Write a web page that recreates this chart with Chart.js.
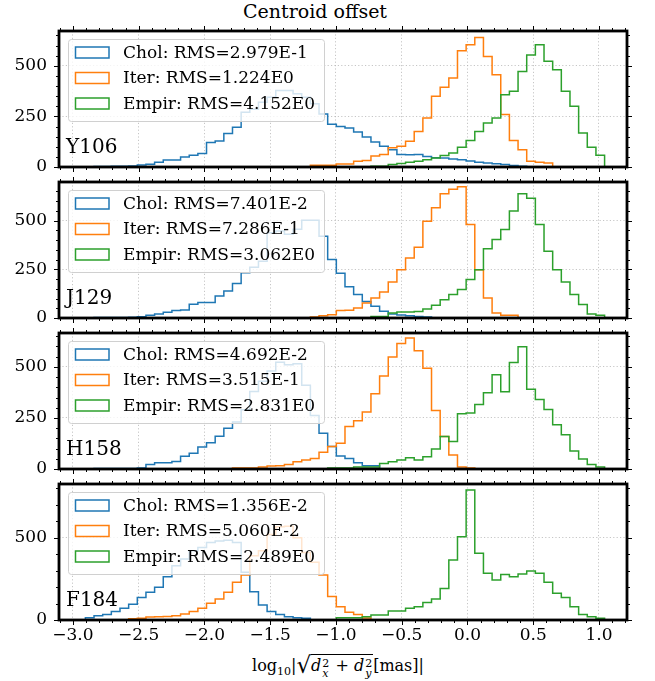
<!DOCTYPE html>
<html>
<head>
<meta charset="utf-8">
<script src="https://cdn.jsdelivr.net/npm/chart.js@4.4.1/dist/chart.umd.min.js"></script>
<style>
  html, body { margin: 0; padding: 0; background: #fff; }
  #page { position: relative; width: 655px; height: 681px; font-family: "DejaVu Serif", serif; color: #000; }
  .panel { position: absolute; left: 0; width: 655px; }
  #title { position: absolute; top: -1px; left: 0; width: 630px; text-align: center; font-size: 19px; line-height: 24px; }
  #xlabel { position: absolute; top: 651px; left: 0; width: 676px; text-align: center; font-size: 16px; line-height: 24px; white-space: nowrap; }
  .sub { font-size: 11px; position: relative; top: 4px; }
  .rad { font-size: 23px; position: relative; top: 2px; }
  .ov { border-top: 1px solid #000; padding-top: 1px; }
  .ss { display: inline-block; position: relative; width: 9px; height: 10px; font-size: 11px; }
  .ss .sp { position: absolute; left: 1px; top: -9px; }
  .ss .sb { position: absolute; left: 1px; top: 1px; }
</style>
</head>
<body>
<div id="page">
  <div id="title">Centroid offset</div>
  <div id="xlabel">log<span class="sub">10</span>|<span class="rad">√</span><span class="ov"><i>d</i><span class="ss"><span class="sp">2</span><span class="sb"><i>x</i></span></span> + <i>d</i><span class="ss"><span class="sp">2</span><span class="sb"><i>y</i></span></span></span>[mas]|</div>
</div>
<script>
// histogram bins (shared by all panels)
const binEdge0 = -3.037;
const binWidth = 0.0658;

const bands = ['Y106', 'J129', 'H158', 'F184'];
const methods = ['Chol', 'Iter', 'Empir'];
const rmsChol = ['2.979E-1', '7.401E-2', '4.692E-2', '1.356E-2'];
const rmsIter = ['1.224E0', '7.286E-1', '3.515E-1', '5.060E-2'];
const rmsEmpir = ['4.152E0', '3.062E0', '2.831E0', '2.489E0'];

const yMax = [672, 698, 666, 826];
const yMajor = [250, 250, 250, 500];
const yMinor = [50, 50, 50, 100];

// first bin index of each histogram
const cholFrom = [3, 3, 3, 2];
const iterFrom = [28, 28, 19, 7];
const empirFrom = [35, 35, 30, 31];

// counts per bin
const cholY106 = [2, 3, 4, 4, 5, 10, 14, 24, 34, 34, 50, 58, 67, 121, 129, 165, 197, 270, 285, 320, 345, 378, 378, 362, 345, 312, 262, 211, 200, 193, 173, 148, 124, 102, 85, 62, 60, 62, 52, 46, 45, 40, 36, 30, 24, 20, 16, 12, 8, 4];
const iterY106 = [9, 9, 9, 15, 15, 28, 32, 54, 62, 95, 103, 127, 176, 242, 349, 394, 440, 575, 604, 640, 546, 456, 259, 131, 85, 29, 24, 20];
const empirY106 = [4, 4, 12, 17, 24, 29, 36, 45, 57, 69, 97, 131, 176, 218, 242, 357, 374, 472, 554, 604, 522, 481, 374, 300, 168, 97, 58];

const cholJ129 = [3, 3, 3, 3, 4, 6, 14, 20, 29, 38, 41, 70, 79, 79, 113, 139, 177, 232, 261, 291, 437, 446, 430, 456, 502, 502, 420, 300, 230, 160, 120, 85, 60, 35, 20, 15, 12, 8, 5];
const iterJ129 = [5, 12, 17, 38, 40, 51, 77, 103, 134, 185, 248, 308, 363, 497, 566, 638, 661, 673, 480, 248, 103, 26, 14, 14];
const empirJ129 = [8, 8, 26, 31, 31, 34, 46, 65, 94, 120, 146, 197, 248, 356, 403, 454, 549, 638, 614, 480, 343, 248, 185, 120, 69, 20, 14];

const cholH158 = [2, 3, 2, 2, 3, 5, 22, 30, 30, 37, 63, 77, 108, 128, 160, 200, 230, 290, 380, 430, 480, 523, 510, 515, 410, 262, 175, 110, 64, 52, 31, 16, 16];
const iterH158 = [5, 5, 5, 10, 15, 16, 22, 35, 44, 52, 82, 110, 126, 208, 236, 279, 368, 456, 549, 615, 641, 579, 493, 286, 159, 68, 10, 5];
const empirH158 = [5, 5, 5, 10, 10, 10, 27, 35, 44, 55, 44, 60, 98, 159, 135, 270, 274, 316, 373, 461, 378, 521, 599, 390, 340, 291, 217, 168, 88, 49, 22, 10];

const cholF184 = [14, 26, 34, 51, 71, 95, 136, 168, 199, 263, 330, 370, 420, 440, 470, 480, 485, 470, 290, 172, 91, 51, 34, 20, 14, 10];
const iterF184 = [8, 10, 18, 20, 22, 26, 36, 51, 71, 101, 127, 168, 229, 273, 390, 420, 520, 567, 570, 500, 410, 350, 273, 142, 81, 47, 34, 12];
const empirF184 = [14, 14, 14, 20, 30, 30, 55, 55, 71, 81, 107, 127, 192, 364, 506, 790, 405, 284, 243, 277, 263, 279, 297, 284, 229, 162, 136, 81, 34, 20, 10];

const cholCounts = [cholY106, cholJ129, cholH158, cholF184];
const iterCounts = [iterY106, iterJ129, iterH158, iterF184];
const empirCounts = [empirY106, empirJ129, empirH158, empirF184];

const colors = ['#1f77b4', '#ff7f0e', '#2ca02c'];
const xMin = -3.106, xMax = 1.213;
const panelTop = [31, 182, 333, 484];
const panelH = 136;
const FONT = '"DejaVu Serif", serif';
const TEXT_SIZE = 17;

function edge(k) { return binEdge0 + k * binWidth; }

// outline of a step histogram
function stepPoints(first, counts) {
  const pts = [{x: edge(first), y: 0}];
  counts.forEach((c, i) => pts.push({x: edge(first + i), y: c}));
  pts.push({x: edge(first + counts.length), y: 0});
  return pts;
}

const panelDecor = {
  id: 'panelDecor',
  afterDraw(chart, args, opts) {
    const {ctx, chartArea: a} = chart;
    const x = chart.scales.x, y = chart.scales.y;
    ctx.save();

    // legend box
    const lx = a.left + 9.5, ly = a.top + 8.5, lw = 256, lh = 82, r = 3;
    ctx.beginPath();
    ctx.moveTo(lx + r, ly);
    ctx.arcTo(lx + lw, ly, lx + lw, ly + lh, r);
    ctx.arcTo(lx + lw, ly + lh, lx, ly + lh, r);
    ctx.arcTo(lx, ly + lh, lx, ly, r);
    ctx.arcTo(lx, ly, lx + lw, ly, r);
    ctx.closePath();
    ctx.fillStyle = 'rgba(255,255,255,0.8)';
    ctx.fill();
    ctx.strokeStyle = '#d0d0d0';
    ctx.lineWidth = 1;
    ctx.stroke();
    ctx.font = TEXT_SIZE + 'px ' + FONT;
    ctx.textBaseline = 'middle';
    ctx.textAlign = 'left';
    chart.data.datasets.forEach((ds, i) => {
      const cy = a.top + 21.5 + i * 25.5;
      ctx.strokeStyle = ds.borderColor;
      ctx.lineWidth = 1.5;
      ctx.strokeRect(a.left + 16.5, cy - 5.5, 33.5, 11);
      ctx.fillStyle = '#000';
      ctx.fillText(ds.label, a.left + 64, cy + 1);
    });

    // band label
    ctx.font = '20px ' + FONT;
    ctx.textBaseline = 'alphabetic';
    ctx.fillText(opts.band, a.left + 7, a.bottom - 14);

    // ticks on all four sides
    ctx.strokeStyle = '#000';
    ctx.lineWidth = 1;
    for (let i = -31; i <= 12; i++) {
      const v = i / 10;
      if (v < x.min || v > x.max) continue;
      const px = Math.round(x.getPixelForValue(v)) + 0.5;
      const len = i % 5 === 0 ? 5 : 3;
      ctx.beginPath();
      ctx.moveTo(px, a.bottom); ctx.lineTo(px, a.bottom + len);
      ctx.moveTo(px, a.top); ctx.lineTo(px, a.top - len);
      ctx.stroke();
    }
    for (let v = 0; v <= y.max; v += opts.minor) {
      const py = Math.round(y.getPixelForValue(v)) + 0.5;
      const len = v % opts.major === 0 ? 5 : 3;
      ctx.beginPath();
      ctx.moveTo(a.left, py); ctx.lineTo(a.left - len, py);
      ctx.moveTo(a.right, py); ctx.lineTo(a.right + len, py);
      ctx.stroke();
    }

    // frame
    ctx.lineWidth = 2.8;
    ctx.strokeRect(a.left, a.top, a.right - a.left, a.bottom - a.top);
    ctx.restore();
  }
};

const page = document.getElementById('page');

bands.forEach((band, p) => {
  const last = p === bands.length - 1;
  const box = document.createElement('div');
  box.className = 'panel';
  box.style.top = (panelTop[p] - 8) + 'px';
  box.style.height = (8 + panelH + (last ? 28 : 8)) + 'px';
  const cv = document.createElement('canvas');
  box.appendChild(cv);
  page.appendChild(box);

  const series = [
    {from: cholFrom[p], counts: cholCounts[p], label: methods[0] + ': RMS=' + rmsChol[p]},
    {from: iterFrom[p], counts: iterCounts[p], label: methods[1] + ': RMS=' + rmsIter[p]},
    {from: empirFrom[p], counts: empirCounts[p], label: methods[2] + ': RMS=' + rmsEmpir[p]}
  ];

  const gridStyle = {color: 'rgba(176,176,176,0.9)', lineWidth: 0.8, drawTicks: false};
  const borderStyle = {display: false, dash: [1.2, 2.2]};
  const yTicks = [];
  for (let v = 0; v <= yMax[p]; v += yMajor[p]) yTicks.push({value: v});

  new Chart(cv, {
    type: 'line',
    data: {
      datasets: series.map((s, i) => ({
        label: s.label,
        data: stepPoints(s.from, s.counts),
        borderColor: colors[i],
        backgroundColor: 'transparent',
        borderWidth: 1.5,
        stepped: 'before',
        pointRadius: 0,
        fill: false,
        order: 2 - i
      }))
    },
    options: {
      responsive: true,
      maintainAspectRatio: false,
      animation: false,
      layout: {padding: {left: 0, right: 28, top: 8, bottom: last ? 0 : 8}},
      plugins: {
        legend: {display: false},
        tooltip: {enabled: false},
        panelDecor: {band: band, major: yMajor[p], minor: yMinor[p]}
      },
      scales: {
        x: {
          type: 'linear',
          min: xMin,
          max: xMax,
          afterFit: s => {
            s.height = last ? 28 : 0;
            s.paddingLeft = 0; s.paddingRight = 0;
          },
          grid: gridStyle,
          border: borderStyle,
          ticks: {
            display: last,
            stepSize: 0.5,
            includeBounds: false,
            autoSkip: false,
            maxRotation: 0,
            padding: 5,
            color: '#000',
            font: {family: FONT, size: TEXT_SIZE},
            callback: v => (v < 0 ? '\u2212' : '') + Math.abs(v).toFixed(1)
          }
        },
        y: {
          min: 0,
          max: yMax[p],
          afterFit: s => {
            s.width = 59;
            s.paddingTop = 0; s.paddingBottom = 0;
          },
          afterBuildTicks: s => { s.ticks = yTicks.map(t => ({value: t.value})); },
          grid: gridStyle,
          border: borderStyle,
          ticks: {
            padding: 12,
            color: '#000',
            font: {family: FONT, size: TEXT_SIZE}
          }
        }
      }
    },
    plugins: [panelDecor]
  });
});
</script>
</body>
</html>
